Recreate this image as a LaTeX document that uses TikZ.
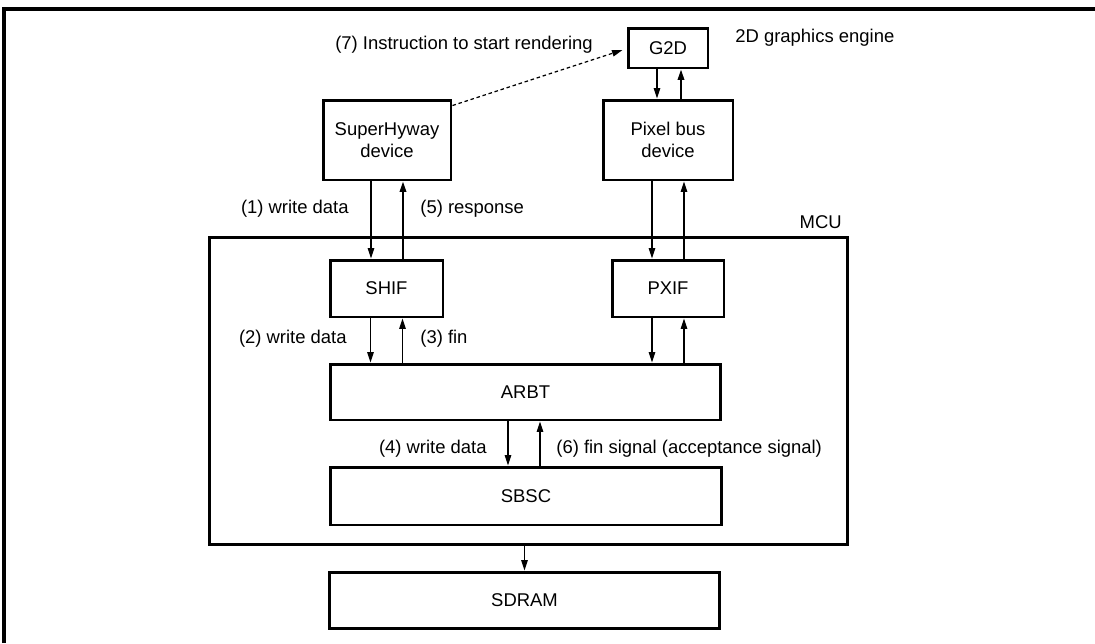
\documentclass[tikz,border=0pt]{standalone}
\usepackage{fontspec}
\setmainfont{Liberation Sans}
\usepackage{tikz}
\usetikzlibrary{arrows.meta, positioning}

\tikzset{
  block/.style={rectangle, draw, line width=1.7pt, inner sep=0pt, align=center},
  lbl/.style={inner sep=0pt},
  link/.style={->, line width=0.7pt},
  reply/.style={->, line width=1.1pt},
}

\begin{document}
\begin{tikzpicture}[x=0.02cm, y=-0.02cm, >={Triangle[length=2.1mm, width=1.3mm]},
    font=\fontsize{10.5}{12.6}\selectfont]
    \useasboundingbox (0,0) rectangle (1095,643);
    \draw [line width=2.2pt] (4,643) -- (4,9) -- (1095,9);

    \node (g2d) [block, minimum width=1.6cm, minimum height=0.8cm] at (668,48) {G2D};
    \node (shdev) [block, minimum width=2.56cm, minimum height=1.6cm] at (387,140) {SuperHyway\\device};
    \node (pxdev) [block, minimum width=2.6cm, minimum height=1.6cm] at (668,140) {Pixel bus\\device};
    \node (mcu) [block, minimum width=12.78cm, minimum height=6.16cm] at (528.5,391) {};
    \node (shif) [block, minimum width=2.26cm, minimum height=1.14cm] at (386.5,288.5) {SHIF};
    \node (pxif) [block, minimum width=2.24cm, minimum height=1.14cm] at (668,288.5) {PXIF};
    \node (arbt) [block, minimum width=7.82cm, minimum height=1.12cm] at (525.5,392) {ARBT};
    \node (sbsc) [block, minimum width=7.84cm, minimum height=1.16cm] at (526,496) {SBSC};
    \node (sdram) [block, minimum width=7.82cm, minimum height=1.12cm] at (524.5,600) {SDRAM};

    % labels
    \node (engine) [lbl, anchor=west] at (735,38) {2D graphics engine};
    \node (mcutxt) [lbl, anchor=east] at (842,222) {MCU};
    \node (l1) [lbl, anchor=east] at (349,209) {(1) write data};
    \node (l5) [lbl, anchor=west] at (420,209) {(5) response};
    \node (l2) [lbl, anchor=east] at (347,339) {(2) write data};
    \node (l3) [lbl, anchor=west] at (420,339) {(3) fin};
    \node (l4) [lbl, anchor=east] at (487,449) {(4) write data};
    \node (l6) [lbl, anchor=west] at (556,449) {(6) fin signal (acceptance signal)};
    \node (l7) [lbl, anchor=east] at (593,45) {(7) Instruction to start rendering};

    \draw [link] ([xshift=-0.32cm]shdev.south) -- ([xshift=-0.32cm]shdev.south |- shif.north);
    \draw [reply] ([xshift=0.32cm]shdev.south |- shif.north) -- ([xshift=0.32cm]shdev.south);
    \draw [link] ([xshift=-0.32cm]pxdev.south) -- ([xshift=-0.32cm]pxdev.south |- pxif.north);
    \draw [link] ([xshift=0.32cm]pxdev.south |- pxif.north) -- ([xshift=0.32cm]pxdev.south);
    \draw [link] ([xshift=-0.22cm]g2d.south) -- ([xshift=-0.22cm]g2d.south |- pxdev.north);
    \draw [reply] ([xshift=0.26cm]g2d.south |- pxdev.north) -- ([xshift=0.26cm]g2d.south);

    \draw [link] ([xshift=-0.32cm]shif.south) -- ([xshift=-0.32cm]shif.south |- arbt.north);
    \draw [link] ([xshift=0.32cm]shif.south |- arbt.north) -- ([xshift=0.32cm]shif.south);
    \draw [link] ([xshift=-0.32cm]pxif.south) -- ([xshift=-0.32cm]pxif.south |- arbt.north);
    \draw [link] ([xshift=0.32cm]pxif.south |- arbt.north) -- ([xshift=0.32cm]pxif.south);

    \draw [link] ([xshift=-0.36cm]sbsc.north |- arbt.south) -- ([xshift=-0.36cm]sbsc.north);
    \draw [link] ([xshift=0.28cm]sbsc.north) -- ([xshift=0.28cm]sbsc.north |- arbt.south);
    \draw [link] (sdram.north |- mcu.south) -- (sdram.north);

    \draw [->, line width=0.7pt, dash pattern=on 2pt off 1.6pt]
        ([yshift=-0.14cm]shdev.north east) -- ([xshift=-0.08cm, yshift=-0.04cm]g2d.west);
\end{tikzpicture}
\end{document}
